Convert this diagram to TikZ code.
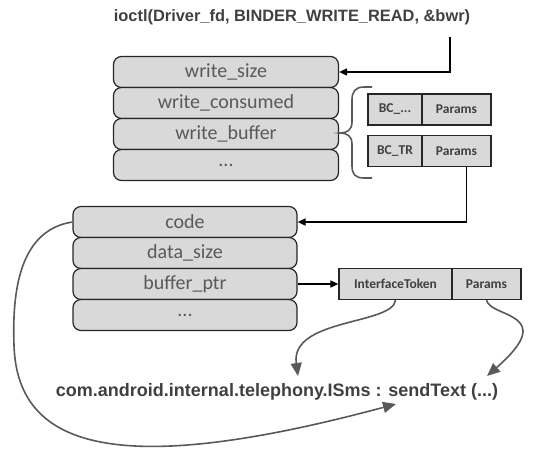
\documentclass[tikz,border=0pt]{standalone}
\usepackage{fontspec}
\setmainfont{Liberation Sans}
\newfontfamily\calib{Carlito}
\usetikzlibrary{arrows.meta}
\definecolor{txtgray}{HTML}{595959}
\definecolor{inkgray}{HTML}{404040}
\definecolor{boxfill}{HTML}{D9D9D9}
\begin{document}
\begin{tikzpicture}[x=1pt, y=-1pt,
field/.style = {draw=black!85, line width=1.2pt,
	rounded corners=8pt, fill=boxfill,
	minimum width=225pt, minimum height=31pt, inner sep=0pt,
	font=\calib\fontsize{20}{20}\selectfont, text=txtgray},
cell/.style = {draw=black!85, line width=1.2pt, fill=boxfill,
	minimum height=31pt, inner sep=0pt,
	font=\calib\bfseries\fontsize{13.5}{14}\selectfont, text=inkgray},
caption/.style = {font=\bfseries\fontsize{16.4}{17}\selectfont, text=inkgray},
link/.style = {line width=1.6pt, -{Triangle[length=8pt,width=7pt]}},
flow/.style = {draw=txtgray, line width=1.6pt,
	-{Triangle[length=13pt,width=11pt,fill=txtgray]}}]
\useasboundingbox (0,0) rectangle (540,451);

\node (call) at (292,17) [caption] {ioctl(Driver\_fd, BINDER\_WRITE\_READ, \&bwr)};

\node (ws) at (226,72) [field] {write\_size};
\node (wc) at (226,103) [field] {write\_consumed};
\node (wb) at (226,134) [field] {write\_buffer};
\node (wx) at (226,165) [field] {...};

\node (bc1) at (395,109.5) [cell, minimum width=54pt] {BC\_...};
\node (pa1) at (456.5,109.5) [cell, minimum width=69pt] {Params};
\node (bc2) at (395,151) [cell, minimum width=54pt] {BC\_TR};
\node (pa2) at (456.5,151) [cell, minimum width=69pt] {Params};

\node (code) at (185,222) [field, minimum width=224pt] {code};
\node (ds) at (185,253) [field, minimum width=224pt] {data\_size};
\node (bp) at (185,284) [field, minimum width=224pt] {buffer\_ptr};
\node (bx) at (185,315) [field, minimum width=224pt] {...};

\node (it) at (395.5,284) [cell, minimum width=113pt] {InterfaceToken};
\node (pa3) at (486.5,284) [cell, minimum width=69pt] {Params};

\node (sig) at (277,392) [caption, font=\bfseries\fontsize{18}{18}\selectfont]
	{com.android.internal.telephony.ISms : sendText (...)};

\coordinate (drop) at (450,37);
\coordinate (s1) at (298,376);
\coordinate (s2) at (487,376);
\coordinate (s3) at (396,404);
\coordinate (bend) at (14,345);
\coordinate (near) at (382.5,407.6);

\draw[txtgray, line width=1.6pt] (372,87) -- (364,87)
	.. controls (355,87) and (352,92) .. (352,100) -- (352,122)
	.. controls (352,130) and (347,133) .. (340,133)
	.. controls (347,133) and (352,136) .. (352,144) -- (352,166)
	.. controls (352,174) and (355,178) .. (364,178) -- (372,178);

\draw[link] (drop) |- (ws);
\draw[link] ([xshift=10pt]pa2.south) |- (code);
\draw[link] (bp) -- (it);

\draw[flow] (it.south) .. controls (393,325) and (290,318) .. (s1);
\draw[flow] (pa3.south) .. controls (490,318) and (560,312) .. (s2);
\draw[txtgray, line width=1.6pt] (code.west) .. controls (20,230) and (12,290) .. (bend)
	.. controls (17,450) and (120,478) .. (near);
\draw[flow] (near) -- (s3);
\end{tikzpicture}
\end{document}
